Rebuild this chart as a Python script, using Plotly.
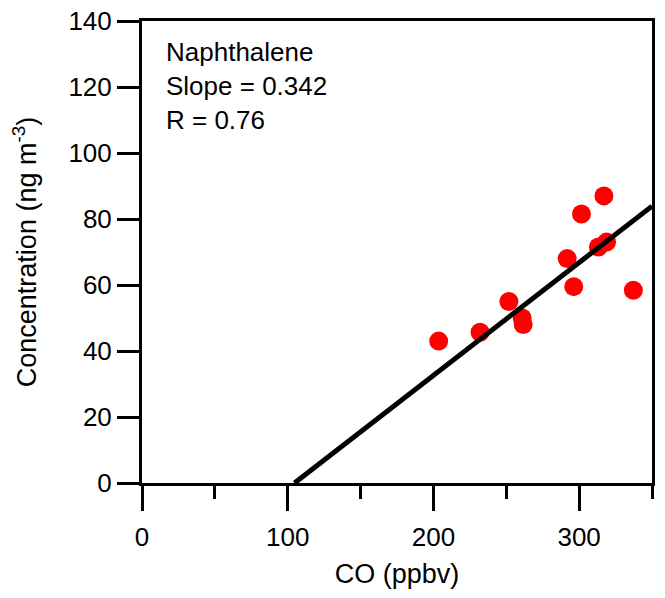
import plotly.graph_objects as go

co_ppbv = [203.6, 232.0, 251.8, 260.9, 261.6, 291.8, 296.3, 301.6, 317.0, 313.2, 318.8, 337.2]
naphthalene = [43.0, 45.7, 55.0, 50.0, 48.0, 68.0, 59.5, 81.5, 87.0, 71.5, 73.0, 58.4]

slope = 0.342
intercept = -35.8
fit_x = [-intercept / slope, 350]
fit_y = [slope * x + intercept for x in fit_x]

x_ticks = [0, 100, 200, 300]
y_ticks = [0, 20, 40, 60, 80, 100, 120, 140]

FONT = "Liberation Sans, Arial, sans-serif"

fig = go.Figure()
fig.add_trace(go.Scatter(x=co_ppbv, y=naphthalene, mode="markers",
                         marker=dict(color="#ff0000", size=19, line=dict(width=0)),
                         showlegend=False, cliponaxis=False))
fig.add_trace(go.Scatter(x=fit_x, y=fit_y, mode="lines",
                         line=dict(color="black", width=5), showlegend=False))

fig.add_annotation(xref="paper", yref="paper", x=0.044, y=0.97,
                   xanchor="left", yanchor="top", align="left", showarrow=False,
                   text="Naphthalene<br>Slope = 0.342<br>R = 0.76",
                   font=dict(family=FONT, size=26, color="black"))

fig.update_layout(
    width=665, height=598,
    margin=dict(l=142, r=13, t=21, b=115),
    plot_bgcolor="white", paper_bgcolor="white",
    font=dict(family=FONT, size=26, color="black"),
)
fig.update_xaxes(range=[0, 350], tickvals=x_ticks, showgrid=False, zeroline=False,
                 automargin=False,
                 showline=True, linewidth=3, linecolor="black", mirror=True,
                 ticks="outside", ticklen=25, tickwidth=3, tickcolor="black",
                 ticklabelstandoff=4,
                 minor=dict(dtick=50, tick0=0, ticks="outside", ticklen=13, tickwidth=3,
                            tickcolor="black", showgrid=False),
                 title=dict(text="CO (ppbv)", standoff=13, font=dict(size=27)),
                 tickfont=dict(size=26))
fig.update_yaxes(range=[0, 140], tickvals=y_ticks, showgrid=False, zeroline=False,
                 automargin=False,
                 showline=True, linewidth=3, linecolor="black", mirror=True,
                 ticks="outside", ticklen=22, tickwidth=3, tickcolor="black",
                 title=dict(text="Concentration (ng m<sup>-3</sup>)", standoff=24,
                            font=dict(size=27)),
                 tickfont=dict(size=26))

fig.write_html("out.html")
